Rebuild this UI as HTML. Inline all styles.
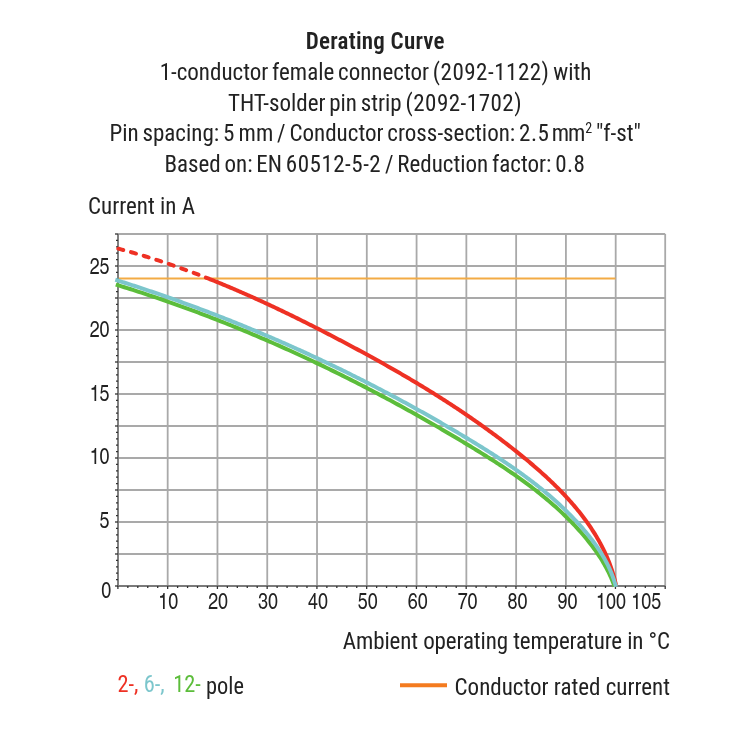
<!DOCTYPE html>
<html><head><meta charset="utf-8"><title>Derating Curve</title>
<style>
html,body{margin:0;padding:0;background:#fff;}
body{width:750px;height:750px;overflow:hidden;position:relative;}
svg{position:absolute;left:0;top:0;will-change:transform;}
text{font-family:"Roboto Condensed","Liberation Sans Narrow","Liberation Sans",sans-serif;fill:#222;font-size:23px;}
.ws{word-spacing:-1.5px;}
.n{letter-spacing:0.5px;}
.ax text{font-family:"TeX Gyre Heros Cn","Roboto Condensed","Liberation Sans Narrow","Liberation Sans",sans-serif;font-size:23.3px;fill:#222;}
</style></head><body>
<svg width="750" height="750" viewBox="0 0 750 750">
<g text-anchor="middle">
<text x="375.3" y="49.3" font-weight="560" letter-spacing="0.22" textLength="138.88" lengthAdjust="spacingAndGlyphs">Derating Curve</text>
<text class="ws" x="375.5" y="79.5" textLength="431.69" lengthAdjust="spacingAndGlyphs">1-conductor female connector <tspan class="n">(2092-1122)</tspan> with</text>
<text class="ws" x="375" y="110.7" textLength="294.11" lengthAdjust="spacingAndGlyphs">THT-solder pin strip <tspan class="n">(2092-1702)</tspan></text>
<text class="ws" x="375.2" y="140.5" textLength="531.56" lengthAdjust="spacingAndGlyphs">Pin spacing: <tspan class="n">5</tspan> mm / Conductor cross-section: <tspan class="n">2.5</tspan> <tspan dx="-1.5" letter-spacing="-0.9">mm</tspan><tspan font-size="14" dx="0.6" dy="-7.6">2</tspan><tspan dy="7.6"> "f-st"</tspan></text>
<text class="ws" x="375" y="171.7" textLength="420.98" lengthAdjust="spacingAndGlyphs">Based on: EN <tspan class="n">60512-5-2</tspan> / Reduction factor: <tspan class="n">0.8</tspan></text>
</g>
<text x="88" y="213.7" textLength="106.94" lengthAdjust="spacingAndGlyphs">Current in A</text>
<g stroke="#a9a9a9" stroke-width="1.8" fill="none">
<line x1="167.68" y1="234" x2="167.68" y2="586"/><line x1="217.46" y1="234" x2="217.46" y2="586"/><line x1="267.24" y1="234" x2="267.24" y2="586"/><line x1="317.02" y1="234" x2="317.02" y2="586"/><line x1="366.80" y1="234" x2="366.80" y2="586"/><line x1="416.58" y1="234" x2="416.58" y2="586"/><line x1="466.36" y1="234" x2="466.36" y2="586"/><line x1="516.14" y1="234" x2="516.14" y2="586"/><line x1="565.92" y1="234" x2="565.92" y2="586"/><line x1="615.70" y1="234" x2="615.70" y2="586"/><line x1="665.2" y1="234" x2="665.2" y2="586"/><line x1="118" y1="554.00" x2="665.2" y2="554.00"/><line x1="118" y1="522.00" x2="665.2" y2="522.00"/><line x1="118" y1="490.00" x2="665.2" y2="490.00"/><line x1="118" y1="458.00" x2="665.2" y2="458.00"/><line x1="118" y1="426.00" x2="665.2" y2="426.00"/><line x1="118" y1="394.00" x2="665.2" y2="394.00"/><line x1="118" y1="362.00" x2="665.2" y2="362.00"/><line x1="118" y1="330.00" x2="665.2" y2="330.00"/><line x1="118" y1="298.00" x2="665.2" y2="298.00"/><line x1="118" y1="266.00" x2="665.2" y2="266.00"/><line x1="118" y1="234.00" x2="665.2" y2="234.00"/>
</g>
<line x1="118" y1="278.6" x2="615.5" y2="278.6" stroke="#f3ab45" stroke-width="2"/>
<g stroke="#7a7a7a" stroke-width="1.9">
<line x1="118" y1="234" x2="118" y2="587"/>
<line x1="117" y1="586" x2="665.2" y2="586"/>
</g>
<g stroke="#333" stroke-width="1.3">
<line x1="115" y1="586.00" x2="118" y2="586.00"/><line x1="116" y1="579.60" x2="118" y2="579.60"/><line x1="116" y1="573.20" x2="118" y2="573.20"/><line x1="116" y1="566.80" x2="118" y2="566.80"/><line x1="116" y1="560.40" x2="118" y2="560.40"/><line x1="115" y1="554.00" x2="118" y2="554.00"/><line x1="116" y1="547.60" x2="118" y2="547.60"/><line x1="116" y1="541.20" x2="118" y2="541.20"/><line x1="116" y1="534.80" x2="118" y2="534.80"/><line x1="116" y1="528.40" x2="118" y2="528.40"/><line x1="115" y1="522.00" x2="118" y2="522.00"/><line x1="116" y1="515.60" x2="118" y2="515.60"/><line x1="116" y1="509.20" x2="118" y2="509.20"/><line x1="116" y1="502.80" x2="118" y2="502.80"/><line x1="116" y1="496.40" x2="118" y2="496.40"/><line x1="115" y1="490.00" x2="118" y2="490.00"/><line x1="116" y1="483.60" x2="118" y2="483.60"/><line x1="116" y1="477.20" x2="118" y2="477.20"/><line x1="116" y1="470.80" x2="118" y2="470.80"/><line x1="116" y1="464.40" x2="118" y2="464.40"/><line x1="115" y1="458.00" x2="118" y2="458.00"/><line x1="116" y1="451.60" x2="118" y2="451.60"/><line x1="116" y1="445.20" x2="118" y2="445.20"/><line x1="116" y1="438.80" x2="118" y2="438.80"/><line x1="116" y1="432.40" x2="118" y2="432.40"/><line x1="115" y1="426.00" x2="118" y2="426.00"/><line x1="116" y1="419.60" x2="118" y2="419.60"/><line x1="116" y1="413.20" x2="118" y2="413.20"/><line x1="116" y1="406.80" x2="118" y2="406.80"/><line x1="116" y1="400.40" x2="118" y2="400.40"/><line x1="115" y1="394.00" x2="118" y2="394.00"/><line x1="116" y1="387.60" x2="118" y2="387.60"/><line x1="116" y1="381.20" x2="118" y2="381.20"/><line x1="116" y1="374.80" x2="118" y2="374.80"/><line x1="116" y1="368.40" x2="118" y2="368.40"/><line x1="115" y1="362.00" x2="118" y2="362.00"/><line x1="116" y1="355.60" x2="118" y2="355.60"/><line x1="116" y1="349.20" x2="118" y2="349.20"/><line x1="116" y1="342.80" x2="118" y2="342.80"/><line x1="116" y1="336.40" x2="118" y2="336.40"/><line x1="115" y1="330.00" x2="118" y2="330.00"/><line x1="116" y1="323.60" x2="118" y2="323.60"/><line x1="116" y1="317.20" x2="118" y2="317.20"/><line x1="116" y1="310.80" x2="118" y2="310.80"/><line x1="116" y1="304.40" x2="118" y2="304.40"/><line x1="115" y1="298.00" x2="118" y2="298.00"/><line x1="116" y1="291.60" x2="118" y2="291.60"/><line x1="116" y1="285.20" x2="118" y2="285.20"/><line x1="116" y1="278.80" x2="118" y2="278.80"/><line x1="116" y1="272.40" x2="118" y2="272.40"/><line x1="115" y1="266.00" x2="118" y2="266.00"/><line x1="116" y1="259.60" x2="118" y2="259.60"/><line x1="116" y1="253.20" x2="118" y2="253.20"/><line x1="116" y1="246.80" x2="118" y2="246.80"/><line x1="116" y1="240.40" x2="118" y2="240.40"/><line x1="115" y1="234.00" x2="118" y2="234.00"/><line x1="117.90" y1="586" x2="117.90" y2="589"/><line x1="127.85" y1="586" x2="127.85" y2="588"/><line x1="137.80" y1="586" x2="137.80" y2="588"/><line x1="147.75" y1="586" x2="147.75" y2="588"/><line x1="157.70" y1="586" x2="157.70" y2="588"/><line x1="167.65" y1="586" x2="167.65" y2="589"/><line x1="177.61" y1="586" x2="177.61" y2="588"/><line x1="187.56" y1="586" x2="187.56" y2="588"/><line x1="197.51" y1="586" x2="197.51" y2="588"/><line x1="207.46" y1="586" x2="207.46" y2="588"/><line x1="217.41" y1="586" x2="217.41" y2="589"/><line x1="227.36" y1="586" x2="227.36" y2="588"/><line x1="237.31" y1="586" x2="237.31" y2="588"/><line x1="247.26" y1="586" x2="247.26" y2="588"/><line x1="257.21" y1="586" x2="257.21" y2="588"/><line x1="267.16" y1="586" x2="267.16" y2="589"/><line x1="277.11" y1="586" x2="277.11" y2="588"/><line x1="287.07" y1="586" x2="287.07" y2="588"/><line x1="297.02" y1="586" x2="297.02" y2="588"/><line x1="306.97" y1="586" x2="306.97" y2="588"/><line x1="316.92" y1="586" x2="316.92" y2="589"/><line x1="326.87" y1="586" x2="326.87" y2="588"/><line x1="336.82" y1="586" x2="336.82" y2="588"/><line x1="346.77" y1="586" x2="346.77" y2="588"/><line x1="356.72" y1="586" x2="356.72" y2="588"/><line x1="366.67" y1="586" x2="366.67" y2="589"/><line x1="376.62" y1="586" x2="376.62" y2="588"/><line x1="386.57" y1="586" x2="386.57" y2="588"/><line x1="396.53" y1="586" x2="396.53" y2="588"/><line x1="406.48" y1="586" x2="406.48" y2="588"/><line x1="416.43" y1="586" x2="416.43" y2="589"/><line x1="426.38" y1="586" x2="426.38" y2="588"/><line x1="436.33" y1="586" x2="436.33" y2="588"/><line x1="446.28" y1="586" x2="446.28" y2="588"/><line x1="456.23" y1="586" x2="456.23" y2="588"/><line x1="466.18" y1="586" x2="466.18" y2="589"/><line x1="476.13" y1="586" x2="476.13" y2="588"/><line x1="486.08" y1="586" x2="486.08" y2="588"/><line x1="496.03" y1="586" x2="496.03" y2="588"/><line x1="505.99" y1="586" x2="505.99" y2="588"/><line x1="515.94" y1="586" x2="515.94" y2="589"/><line x1="525.89" y1="586" x2="525.89" y2="588"/><line x1="535.84" y1="586" x2="535.84" y2="588"/><line x1="545.79" y1="586" x2="545.79" y2="588"/><line x1="555.74" y1="586" x2="555.74" y2="588"/><line x1="565.69" y1="586" x2="565.69" y2="589"/><line x1="575.64" y1="586" x2="575.64" y2="588"/><line x1="585.59" y1="586" x2="585.59" y2="588"/><line x1="595.54" y1="586" x2="595.54" y2="588"/><line x1="605.49" y1="586" x2="605.49" y2="588"/><line x1="615.45" y1="586" x2="615.45" y2="589"/><line x1="625.40" y1="586" x2="625.40" y2="588"/><line x1="635.35" y1="586" x2="635.35" y2="588"/><line x1="645.30" y1="586" x2="645.30" y2="588"/><line x1="655.25" y1="586" x2="655.25" y2="588"/><line x1="665.20" y1="586" x2="665.20" y2="589"/>
</g>
<g fill="none" stroke-width="4" stroke-linejoin="round">
<path d="M115.80,284.56 L118.66,285.44 L121.52,286.33 L124.38,287.22 L127.24,288.12 L130.09,289.02 L132.95,289.94 L135.80,290.85 L138.64,291.78 L141.49,292.70 L144.33,293.64 L147.17,294.58 L150.00,295.53 L152.84,296.48 L155.67,297.43 L158.50,298.40 L161.32,299.37 L164.14,300.34 L166.97,301.32 L169.78,302.31 L172.60,303.30 L175.41,304.30 L178.22,305.31 L181.03,306.32 L183.84,307.33 L186.64,308.35 L189.44,309.38 L192.24,310.41 L195.03,311.45 L197.83,312.49 L200.62,313.54 L203.41,314.60 L206.19,315.66 L208.97,316.73 L211.76,317.80 L214.53,318.88 L217.31,319.96 L220.08,321.05 L222.85,322.14 L225.62,323.24 L228.39,324.35 L231.15,325.46 L233.91,326.57 L236.67,327.70 L239.43,328.82 L242.18,329.96 L244.93,331.09 L247.68,332.24 L250.43,333.39 L253.18,334.54 L255.92,335.70 L258.66,336.87 L261.40,338.04 L264.13,339.21 L266.86,340.40 L269.59,341.58 L272.32,342.77 L275.05,343.97 L277.77,345.17 L280.49,346.38 L283.21,347.60 L285.93,348.82 L288.64,350.04 L291.35,351.27 L294.06,352.50 L296.77,353.74 L299.48,354.99 L302.18,356.24 L304.88,357.49 L307.58,358.75 L310.27,360.02 L312.97,361.29 L315.66,362.57 L318.35,363.85 L321.04,365.13 L323.72,366.42 L326.40,367.72 L329.09,369.02 L331.76,370.33 L334.44,371.64 L337.11,372.96 L339.79,374.28 L342.46,375.61 L345.12,376.94 L347.79,378.28 L350.45,379.62 L353.11,380.97 L355.77,382.32 L358.43,383.67 L361.08,385.04 L363.73,386.40 L366.38,387.77 L369.03,389.15 L371.68,390.53 L374.32,391.92 L376.96,393.31 L379.60,394.71 L382.24,396.11 L384.88,397.51 L387.51,398.93 L390.14,400.34 L392.77,401.76 L395.40,403.19 L398.02,404.62 L400.65,406.05 L403.27,407.49 L405.89,408.94 L408.50,410.38 L411.12,411.84 L413.73,413.30 L416.34,414.76 L418.95,416.23 L421.56,417.70 L424.16,419.18 L426.77,420.66 L429.37,422.15 L431.97,423.64 L434.56,425.13 L437.16,426.64 L439.75,428.14 L442.34,429.65 L444.93,431.16 L447.52,432.68 L448.81,433.45 L450.10,434.21 L451.40,434.97 L452.69,435.74 L453.98,436.50 L455.27,437.27 L456.56,438.04 L457.85,438.81 L459.14,439.58 L460.42,440.35 L461.71,441.12 L463.00,441.89 L464.29,442.67 L465.57,443.44 L466.86,444.22 L468.15,445.00 L469.43,445.78 L470.72,446.56 L472.00,447.34 L473.28,448.12 L474.56,448.91 L475.85,449.69 L477.13,450.48 L478.41,451.27 L479.68,452.06 L480.96,452.85 L482.24,453.65 L483.51,454.44 L484.79,455.24 L486.06,456.04 L487.33,456.84 L488.60,457.64 L489.87,458.45 L491.14,459.26 L492.40,460.07 L493.67,460.88 L494.93,461.69 L496.19,462.50 L497.45,463.32 L498.71,464.14 L499.96,464.96 L501.21,465.79 L503.71,467.45 L506.21,469.11 L508.69,470.79 L511.16,472.48 L513.63,474.18 L516.08,475.89 L518.53,477.61 L520.96,479.35 L523.38,481.10 L525.79,482.86 L528.19,484.63 L530.57,486.42 L532.94,488.22 L535.30,490.04 L537.64,491.87 L539.97,493.72 L542.28,495.59 L544.58,497.47 L546.86,499.36 L549.13,501.28 L551.38,503.21 L553.61,505.16 L555.83,507.12 L558.02,509.11 L560.20,511.11 L562.36,513.14 L564.50,515.18 L566.62,517.24 L568.72,519.33 L570.80,521.43 L572.86,523.56 L574.90,525.70 L576.91,527.87 L578.90,530.06 L580.87,532.28 L582.82,534.52 L584.74,536.78 L586.64,539.06 L588.51,541.37 L590.35,543.70 L592.16,546.06 L593.94,548.45 L595.68,550.86 L597.38,553.31 L599.05,555.78 L600.67,558.28 L602.24,560.81 L603.77,563.37 L605.24,565.97 L606.67,568.59 L608.04,571.25 L609.35,573.95 L609.99,575.31 L610.61,576.68 L611.22,578.05 L611.80,579.44 L612.38,580.84 L612.94,582.24 L613.48,583.66 L614.00,585.08 L614.51,586.51" stroke="#5cbd3b"/>
<path d="M115.70,248.00 L117.21,248.39 L118.72,248.78 L120.22,249.18 L121.73,249.59 L123.23,249.99 L124.73,250.40 L126.24,250.82 L127.74,251.23 L129.24,251.65 L130.73,252.07 L132.23,252.50 L133.73,252.93 L135.22,253.36 L136.72,253.80 L138.21,254.23 L139.70,254.68 L141.19,255.12 L142.68,255.57 L144.17,256.02 L145.66,256.47 L147.15,256.93 L148.64,257.39 L150.12,257.86 L151.61,258.32 L153.09,258.79 L154.57,259.26 L156.05,259.74 L157.53,260.22 L159.01,260.70 L160.49,261.18 L161.97,261.67 L163.44,262.16 L164.92,262.65 L166.39,263.15 L167.87,263.65 L169.34,264.15 L170.81,264.65 L172.28,265.16 L173.75,265.67 L175.22,266.18 L176.69,266.70 L178.15,267.22 L179.62,267.74 L181.09,268.26 L182.55,268.79 L184.01,269.32 L185.48,269.85 L186.94,270.38 L188.40,270.92 L189.86,271.46 L191.31,272.00 L192.77,272.54 L194.23,273.09 L195.68,273.64 L197.14,274.19 L198.59,274.75 L200.05,275.30 L201.50,275.86" stroke="#ee3124" stroke-dasharray="5.1 8.1" stroke-dashoffset="-2.7" stroke-linecap="round"/>
<path d="M205.85,277.56 L207.30,278.13 L208.74,278.70 L210.19,279.27 L211.64,279.85 L213.08,280.43 L214.53,281.01 L215.97,281.59 L217.41,282.18 L218.85,282.77 L220.29,283.36 L221.73,283.95 L223.17,284.54 L224.61,285.14 L226.05,285.74 L227.48,286.34 L228.92,286.95 L230.36,287.55 L231.79,288.16 L233.22,288.77 L234.65,289.38 L236.09,290.00 L237.52,290.61 L238.95,291.23 L240.37,291.85 L241.80,292.47 L243.23,293.10 L244.66,293.73 L246.08,294.35 L247.51,294.98 L248.93,295.62 L250.35,296.25 L251.78,296.89 L253.20,297.53 L254.62,298.17 L256.04,298.81 L257.46,299.45 L258.88,300.10 L260.29,300.74 L261.71,301.39 L263.13,302.04 L264.54,302.70 L265.96,303.35 L267.37,304.01 L268.78,304.67 L270.20,305.32 L271.61,305.99 L273.02,306.65 L274.43,307.31 L275.84,307.98 L277.24,308.65 L278.65,309.32 L280.06,309.99 L281.47,310.66 L282.87,311.34 L284.28,312.01 L285.68,312.69 L287.08,313.37 L288.49,314.05 L289.89,314.73 L291.29,315.41 L292.69,316.10 L294.09,316.78 L295.49,317.47 L296.89,318.16 L298.28,318.85 L299.68,319.54 L301.08,320.24 L302.47,320.93 L303.87,321.63 L305.26,322.32 L306.65,323.02 L308.05,323.72 L309.44,324.42 L310.83,325.12 L312.22,325.83 L313.61,326.53 L315.00,327.24 L316.39,327.95 L317.77,328.65 L319.16,329.36 L320.55,330.07 L321.93,330.78 L323.32,331.50 L324.70,332.21 L326.09,332.93 L327.47,333.64 L328.85,334.36 L330.24,335.08 L331.62,335.79 L333.00,336.51 L334.38,337.24 L335.76,337.96 L337.14,338.68 L338.51,339.40 L339.89,340.13 L341.27,340.85 L342.65,341.58 L344.02,342.31 L345.40,343.03 L346.77,343.76 L348.14,344.49 L349.52,345.22 L350.89,345.96 L352.26,346.69 L353.63,347.42 L355.00,348.16 L356.37,348.89 L357.74,349.63 L359.11,350.37 L360.48,351.11 L361.84,351.85 L363.21,352.59 L364.57,353.33 L365.94,354.08 L367.30,354.82 L368.67,355.57 L370.03,356.32 L371.39,357.07 L372.75,357.82 L374.11,358.57 L375.47,359.32 L376.83,360.07 L378.18,360.83 L379.54,361.58 L380.90,362.34 L382.25,363.10 L383.61,363.86 L384.96,364.62 L386.31,365.38 L387.66,366.15 L389.01,366.91 L390.36,367.68 L391.71,368.45 L393.06,369.22 L394.41,369.99 L395.75,370.76 L397.10,371.54 L398.44,372.31 L399.78,373.09 L401.13,373.87 L402.47,374.65 L403.81,375.43 L405.15,376.22 L406.49,377.00 L407.82,377.79 L409.16,378.58 L410.50,379.37 L411.83,380.16 L413.16,380.95 L414.50,381.75 L415.83,382.55 L417.16,383.34 L418.49,384.15 L419.82,384.95 L421.14,385.75 L422.47,386.56 L423.80,387.36 L425.12,388.17 L426.44,388.98 L427.76,389.80 L429.09,390.61 L430.41,391.43 L431.72,392.25 L433.04,393.07 L434.36,393.89 L435.67,394.71 L436.99,395.54 L438.30,396.37 L439.61,397.20 L440.92,398.03 L442.23,398.86 L443.54,399.70 L444.85,400.54 L446.15,401.38 L447.46,402.22 L448.76,403.07 L450.06,403.91 L451.37,404.76 L452.67,405.61 L453.96,406.46 L455.26,407.32 L456.56,408.18 L457.85,409.03 L459.15,409.90 L460.44,410.76 L461.73,411.63 L463.02,412.49 L464.31,413.36 L465.59,414.24 L466.88,415.11 L468.17,415.99 L469.45,416.87 L470.73,417.75 L472.01,418.63 L473.29,419.52 L474.57,420.41 L475.84,421.30 L477.12,422.19 L478.39,423.09 L479.67,423.99 L480.94,424.89 L482.21,425.79 L483.47,426.70 L484.74,427.61 L486.01,428.52 L487.27,429.43 L488.53,430.35 L489.79,431.26 L491.05,432.19 L492.31,433.11 L493.57,434.04 L494.82,434.96 L496.08,435.90 L497.33,436.83 L498.58,437.77 L499.83,438.71 L501.08,439.65 L502.32,440.59 L503.57,441.54 L504.81,442.49 L506.05,443.44 L507.29,444.40 L508.53,445.36 L509.77,446.32 L511.01,447.28 L512.24,448.25 L513.47,449.22 L514.70,450.19 L515.93,451.17 L517.16,452.14 L518.39,453.13 L519.61,454.11 L520.83,455.10 L522.05,456.09 L523.27,457.08 L524.49,458.08 L525.70,459.08 L526.91,460.08 L528.12,461.08 L529.32,462.09 L530.53,463.11 L531.73,464.12 L532.92,465.14 L534.12,466.16 L535.31,467.19 L536.49,468.22 L537.68,469.25 L538.86,470.29 L540.03,471.33 L541.20,472.38 L542.37,473.43 L543.54,474.48 L544.70,475.53 L545.85,476.59 L547.00,477.66 L548.15,478.73 L549.29,479.80 L550.43,480.87 L551.57,481.95 L552.69,483.04 L553.82,484.13 L554.93,485.22 L556.05,486.32 L557.15,487.42 L558.26,488.52 L559.35,489.63 L560.44,490.75 L561.53,491.87 L562.61,492.99 L563.68,494.12 L564.75,495.25 L565.81,496.39 L566.86,497.53 L567.91,498.68 L568.95,499.83 L569.98,500.98 L571.01,502.15 L572.03,503.31 L573.05,504.48 L574.05,505.66 L575.05,506.84 L576.04,508.03 L577.03,509.22 L578.00,510.41 L578.97,511.62 L579.93,512.82 L580.89,514.04 L581.83,515.25 L582.77,516.48 L583.70,517.71 L584.62,518.94 L585.53,520.18 L586.44,521.42 L587.33,522.67 L588.22,523.93 L589.10,525.19 L589.96,526.46 L590.82,527.73 L591.67,529.01 L592.51,530.30 L593.34,531.59 L594.16,532.89 L594.98,534.19 L595.78,535.50 L596.57,536.81 L597.35,538.14 L598.12,539.46 L598.87,540.80 L599.62,542.14 L600.36,543.48 L601.08,544.84 L601.80,546.20 L602.50,547.56 L603.19,548.94 L603.86,550.31 L604.53,551.70 L605.18,553.09 L605.82,554.49 L606.45,555.90 L607.07,557.31 L607.67,558.73 L608.26,560.16 L608.83,561.59 L609.39,563.04 L609.94,564.48 L610.47,565.94 L610.99,567.40 L611.50,568.87 L611.99,570.35 L612.47,571.84 L612.93,573.33 L613.37,574.83 L613.80,576.33 L614.22,577.85 L614.62,579.37 L615.01,580.90 L615.38,582.44 L615.73,583.99" stroke="#ee3124" stroke-linecap="round"/>
<path d="M115.30,279.76 L116.75,280.21 L118.19,280.67 L119.63,281.13 L121.08,281.59 L122.52,282.05 L123.96,282.51 L125.40,282.97 L126.84,283.43 L128.28,283.90 L129.72,284.36 L131.16,284.83 L132.60,285.30 L134.04,285.77 L135.48,286.24 L136.91,286.71 L138.35,287.19 L139.79,287.66 L141.22,288.14 L142.66,288.62 L144.09,289.10 L145.52,289.58 L146.96,290.06 L148.39,290.54 L149.82,291.03 L151.25,291.51 L152.68,292.00 L154.11,292.49 L155.54,292.97 L156.97,293.46 L158.40,293.96 L159.83,294.45 L161.25,294.94 L162.68,295.44 L164.11,295.94 L165.53,296.43 L166.96,296.93 L168.38,297.43 L169.81,297.94 L171.23,298.44 L172.65,298.94 L174.07,299.45 L175.50,299.96 L176.92,300.46 L178.34,300.97 L179.76,301.48 L181.18,302.00 L182.60,302.51 L184.01,303.02 L185.43,303.54 L186.85,304.06 L188.26,304.58 L189.68,305.10 L191.10,305.62 L192.51,306.14 L193.93,306.66 L195.34,307.19 L196.75,307.71 L198.16,308.24 L199.58,308.77 L200.99,309.30 L202.40,309.83 L203.81,310.36 L205.22,310.90 L206.63,311.43 L208.04,311.97 L209.44,312.50 L210.85,313.04 L212.26,313.58 L213.67,314.12 L215.07,314.67 L216.48,315.21 L217.88,315.76 L219.28,316.30 L220.69,316.85 L222.09,317.40 L223.49,317.95 L224.90,318.50 L226.30,319.05 L227.70,319.61 L229.10,320.16 L230.50,320.72 L231.90,321.28 L233.29,321.84 L234.69,322.40 L236.09,322.96 L237.49,323.52 L238.88,324.09 L240.28,324.65 L241.67,325.22 L243.07,325.79 L244.46,326.36 L245.85,326.93 L247.25,327.50 L248.64,328.07 L250.03,328.65 L251.42,329.23 L252.81,329.80 L254.20,330.38 L255.59,330.96 L256.98,331.54 L258.37,332.12 L259.76,332.71 L261.14,333.29 L262.53,333.88 L263.92,334.47 L265.30,335.05 L266.69,335.65 L268.07,336.24 L269.45,336.83 L270.84,337.42 L272.22,338.02 L273.60,338.61 L274.98,339.21 L276.36,339.81 L277.74,340.41 L279.12,341.01 L280.50,341.62 L281.88,342.22 L283.26,342.83 L284.64,343.43 L286.01,344.04 L287.39,344.65 L288.77,345.26 L290.14,345.87 L291.52,346.49 L292.89,347.10 L294.26,347.72 L295.64,348.33 L297.01,348.95 L298.38,349.57 L299.75,350.19 L301.12,350.81 L302.49,351.44 L303.86,352.06 L305.23,352.69 L306.60,353.32 L307.97,353.94 L309.33,354.57 L310.70,355.21 L312.07,355.84 L313.43,356.47 L314.80,357.11 L316.16,357.74 L317.53,358.38 L318.89,359.02 L320.25,359.66 L321.61,360.30 L322.97,360.95 L324.34,361.59 L325.70,362.23 L327.06,362.88 L328.42,363.53 L329.77,364.18 L331.13,364.83 L332.49,365.48 L333.85,366.13 L335.20,366.79 L336.56,367.44 L337.91,368.10 L339.27,368.76 L340.62,369.42 L341.98,370.08 L343.33,370.74 L344.68,371.41 L346.03,372.07 L347.39,372.74 L348.74,373.41 L350.09,374.07 L351.44,374.74 L352.79,375.42 L354.13,376.09 L355.48,376.76 L356.83,377.44 L358.18,378.11 L359.52,378.79 L360.87,379.47 L362.21,380.15 L363.56,380.83 L364.90,381.52 L366.24,382.20 L367.59,382.89 L368.93,383.57 L370.27,384.26 L371.61,384.95 L372.95,385.64 L374.29,386.33 L375.63,387.03 L376.97,387.72 L378.31,388.42 L379.65,389.11 L380.98,389.81 L382.32,390.51 L383.66,391.21 L384.99,391.92 L386.33,392.62 L387.66,393.33 L389.00,394.03 L390.33,394.74 L391.66,395.45 L392.99,396.16 L394.32,396.87 L395.66,397.58 L396.99,398.30 L398.32,399.01 L399.64,399.73 L400.97,400.45 L402.30,401.17 L403.63,401.89 L404.96,402.61 L406.28,403.33 L407.61,404.06 L408.93,404.78 L410.26,405.51 L411.58,406.24 L412.91,406.97 L414.23,407.70 L415.55,408.43 L416.87,409.17 L418.19,409.90 L419.51,410.64 L420.83,411.38 L422.15,412.11 L423.47,412.85 L424.79,413.60 L426.11,414.34 L427.43,415.08 L428.74,415.83 L430.06,416.58 L431.37,417.32 L432.69,418.07 L434.00,418.82 L435.32,419.58 L436.63,420.33 L437.94,421.08 L439.26,421.84 L440.57,422.60 L441.88,423.36 L443.19,424.12 L444.50,424.88 L445.81,425.64 L447.12,426.40 L448.42,427.17 L449.73,427.93 L451.04,428.70 L452.35,429.47 L453.65,430.24 L454.96,431.01 L456.26,431.79 L457.57,432.56 L458.87,433.34 L460.17,434.11 L461.47,434.89 L462.78,435.67 L464.08,436.45 L465.38,437.23 L466.68,438.02 L467.98,438.80 L469.28,439.59 L470.58,440.38 L471.87,441.16 L473.17,441.96 L474.47,442.75 L475.76,443.54 L477.05,444.34 L478.35,445.13 L479.64,445.93 L480.93,446.73 L482.22,447.54 L483.51,448.34 L484.79,449.15 L486.08,449.95 L487.36,450.76 L488.65,451.58 L489.93,452.39 L491.21,453.21 L492.49,454.03 L493.76,454.85 L495.04,455.67 L496.31,456.50 L497.58,457.32 L498.85,458.15 L500.12,458.99 L501.38,459.82 L502.64,460.66 L503.90,461.50 L505.16,462.34 L506.42,463.19 L507.67,464.04 L508.93,464.89 L510.17,465.75 L511.42,466.60 L512.67,467.46 L513.91,468.33 L515.15,469.19 L516.38,470.06 L517.62,470.93 L518.85,471.81 L520.08,472.69 L521.30,473.57 L522.52,474.46 L523.74,475.34 L524.96,476.24 L526.17,477.13 L527.38,478.03 L528.59,478.93 L529.79,479.84 L531.00,480.75 L532.19,481.66 L533.39,482.58 L534.58,483.50 L535.76,484.42 L536.95,485.35 L538.12,486.28 L539.30,487.22 L540.47,488.16 L541.64,489.10 L542.80,490.05 L543.96,491.01 L545.12,491.96 L546.27,492.92 L548.57,494.86 L550.84,496.81 L553.10,498.78 L555.34,500.77 L557.56,502.77 L559.77,504.80 L561.95,506.84 L564.12,508.90 L566.26,510.99 L568.39,513.09 L570.49,515.22 L572.58,517.36 L574.64,519.53 L576.68,521.72 L578.70,523.93 L580.69,526.16 L582.66,528.42 L584.61,530.70 L585.58,531.85 L586.53,533.00 L587.49,534.16 L588.43,535.33 L589.37,536.50 L590.30,537.68 L591.22,538.87 L592.13,540.06 L593.03,541.26 L593.93,542.47 L594.81,543.68 L595.68,544.90 L596.55,546.13 L597.40,547.36 L598.24,548.61 L599.08,549.86 L599.89,551.11 L600.70,552.38 L601.50,553.65 L602.28,554.93 L603.05,556.22 L603.80,557.52 L604.54,558.82 L605.27,560.14 L605.98,561.46 L606.68,562.79 L607.36,564.13 L608.03,565.47 L608.68,566.83 L609.32,568.20 L609.93,569.57 L610.53,570.95 L611.12,572.35 L611.68,573.75 L612.23,575.16 L612.76,576.58 L613.27,578.01 L613.76,579.45 L614.24,580.90 L614.69,582.36 L615.12,583.83 L615.53,585.31 L615.92,586.80" stroke="#7cc6cc"/>
</g>
<g class="ax">
<text transform="translate(109.6 527.5) scale(0.94 1)" text-anchor="end" textLength="10.63" lengthAdjust="spacingAndGlyphs">5</text><text transform="translate(109.6 464.1) scale(0.94 1)" text-anchor="end" textLength="21.25" lengthAdjust="spacingAndGlyphs">10</text><text transform="translate(109.6 400.8) scale(0.94 1)" text-anchor="end" textLength="21.25" lengthAdjust="spacingAndGlyphs">15</text><text transform="translate(109.6 337.4) scale(0.94 1)" text-anchor="end" textLength="21.25" lengthAdjust="spacingAndGlyphs">20</text><text transform="translate(109.6 274.0) scale(0.94 1)" text-anchor="end" textLength="21.25" lengthAdjust="spacingAndGlyphs">25</text><text transform="translate(111.2 597.6) scale(0.94 1)" text-anchor="end" textLength="10.63" lengthAdjust="spacingAndGlyphs">0</text>
<text transform="translate(168.2 608.6) scale(0.94 1)" text-anchor="middle" textLength="21.25" lengthAdjust="spacingAndGlyphs">10</text><text transform="translate(218.1 608.6) scale(0.94 1)" text-anchor="middle" textLength="21.25" lengthAdjust="spacingAndGlyphs">20</text><text transform="translate(268.0 608.6) scale(0.94 1)" text-anchor="middle" textLength="21.25" lengthAdjust="spacingAndGlyphs">30</text><text transform="translate(317.9 608.6) scale(0.94 1)" text-anchor="middle" textLength="21.25" lengthAdjust="spacingAndGlyphs">40</text><text transform="translate(367.8 608.6) scale(0.94 1)" text-anchor="middle" textLength="21.25" lengthAdjust="spacingAndGlyphs">50</text><text transform="translate(417.7 608.6) scale(0.94 1)" text-anchor="middle" textLength="21.25" lengthAdjust="spacingAndGlyphs">60</text><text transform="translate(467.6 608.6) scale(0.94 1)" text-anchor="middle" textLength="21.25" lengthAdjust="spacingAndGlyphs">70</text><text transform="translate(517.5 608.6) scale(0.94 1)" text-anchor="middle" textLength="21.25" lengthAdjust="spacingAndGlyphs">80</text><text transform="translate(567.4 608.6) scale(0.94 1)" text-anchor="middle" textLength="21.25" lengthAdjust="spacingAndGlyphs">90</text><text transform="translate(611.1 608.6) scale(0.94 1)" text-anchor="middle" textLength="31.88" lengthAdjust="spacingAndGlyphs">100</text><text transform="translate(646.3 608.6) scale(0.94 1)" text-anchor="middle" textLength="31.88" lengthAdjust="spacingAndGlyphs">105</text>
</g>
<text x="670" y="648.5" text-anchor="end" letter-spacing="-0.11" textLength="327.17" lengthAdjust="spacingAndGlyphs">Ambient operating temperature in °C</text>
<text x="117.5" y="692.3" textLength="126.41" lengthAdjust="spacingAndGlyphs"><tspan fill="#ee3124">2-,</tspan> <tspan fill="#7cc6cc">6-,</tspan> <tspan fill="#5cbd3b" dx="3.6">12-</tspan><tspan dy="2"> pole</tspan></text>
<line x1="400" y1="685.2" x2="447" y2="685.2" stroke="#f47b20" stroke-width="4"/>
<text x="670" y="695" text-anchor="end" textLength="215.42" lengthAdjust="spacingAndGlyphs">Conductor rated current</text>
</svg>
</body></html>
